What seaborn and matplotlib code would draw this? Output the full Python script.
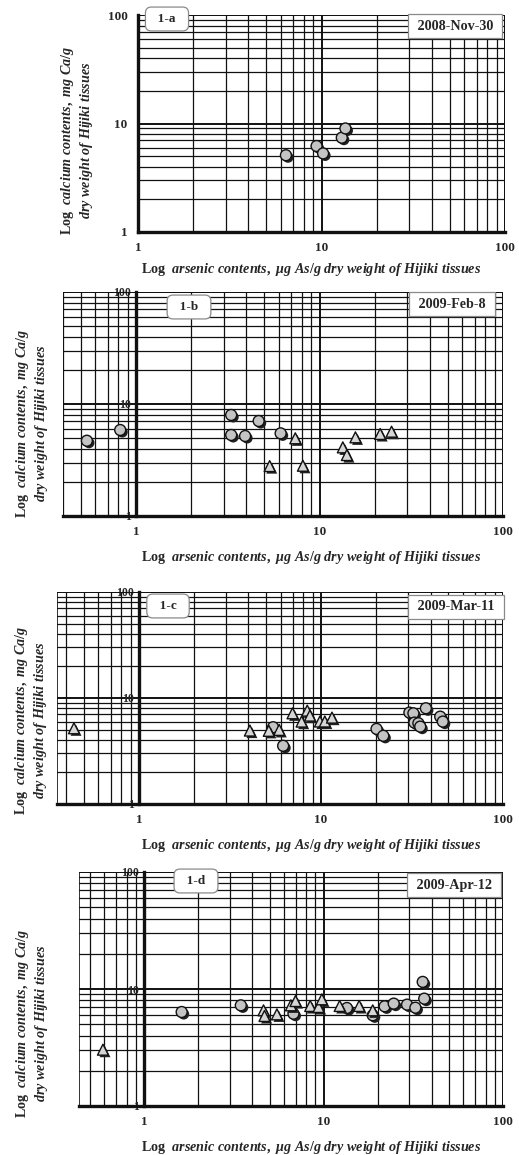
import pandas as pd
import matplotlib.pyplot as plt
import matplotlib.patheffects as pe
from matplotlib.patches import Rectangle
from matplotlib.ticker import FuncFormatter, NullFormatter, LogLocator
import seaborn as sns

# --- data (x: arsenic ug/g, y: calcium mg/g) ---
a_circle_x = [6.4, 9.4, 10.2, 12.9, 13.5]
a_circle_y = [5.1, 6.2, 5.3, 7.4, 9.0]

b_circle_x = [0.54, 0.82, 3.3, 3.3, 3.93, 4.66, 6.14]
b_circle_y = [4.7, 5.86, 7.98, 5.29, 5.18, 7.05, 5.47]
b_tri_x = [7.38, 5.35, 8.12, 13.4, 14.1, 15.7, 21.4, 24.7]
b_tri_y = [4.94, 2.79, 2.81, 4.10, 3.5, 5.04, 5.4, 5.66]

c_tri_x = [0.44, 4.07, 5.17, 5.9, 6.98, 7.83, 8.41, 8.7, 9.87, 10.5, 11.5]
c_tri_y = [5.18, 4.93, 4.9, 5.0, 7.17, 5.99, 7.6, 6.82, 6.0, 6.0, 6.53]
c_circle_x = [5.46, 6.2, 20.2, 22.0, 30.6, 32.2, 32.6, 34.3, 35.1, 37.7, 45.2, 46.7]
c_circle_y = [5.3, 3.54, 5.11, 4.4, 7.28, 7.17, 5.86, 5.78, 5.37, 8.0, 6.67, 5.99]

d_tri_x = [0.59, 4.63, 4.69, 5.5, 6.58, 6.98, 8.43, 9.38, 9.79, 12.3, 15.8, 18.8]
d_tri_y = [3.03, 6.57, 5.88, 6.07, 7.25, 7.89, 7.16, 7.02, 8.16, 7.16, 7.16, 6.57]
d_circle_x = [1.62, 3.46, 6.8, 13.5, 18.8, 21.9, 24.6, 29.2, 32.5, 35.7, 36.4]
d_circle_y = [6.36, 7.25, 6.15, 6.88, 5.96, 7.11, 7.5, 7.35, 6.92, 11.5, 8.27]

panel_tags = ['1-a', '1-b', '1-c', '1-d']
panel_dates = ['2008-Nov-30', '2009-Feb-8', '2009-Mar-11', '2009-Apr-12']


def frame(tag, cx, cy, tx, ty):
    parts = []
    if cx:
        parts.append(pd.DataFrame({'As': cx, 'Ca': cy, 'kind': 'circle'}))
    if tx:
        parts.append(pd.DataFrame({'As': tx, 'Ca': ty, 'kind': 'triangle'}))
    df = pd.concat(parts, ignore_index=True)
    df['panel'] = tag
    return df


panels = [
    frame('1-a', a_circle_x, a_circle_y, [], []),
    frame('1-b', b_circle_x, b_circle_y, b_tri_x, b_tri_y),
    frame('1-c', c_circle_x, c_circle_y, c_tri_x, c_tri_y),
    frame('1-d', d_circle_x, d_circle_y, d_tri_x, d_tri_y),
]

sns.set_theme(style='white')
plt.rcParams.update({
    'font.family': ['Liberation Serif', 'DejaVu Serif'],
    'font.weight': 'bold',
    'mathtext.fontset': 'custom',
    'mathtext.rm': 'Liberation Serif:bold',
    'mathtext.bf': 'Liberation Serif:bold',
    'mathtext.it': 'Liberation Serif:italic:bold',
})

W, H = 519, 1155
fig = plt.figure(figsize=(W / 100, H / 100), dpi=100)

# layout in pixels: left, right, top, bottom of plot area; xlim low
boxes = [
    (138, 505, 15, 232, 1.0),
    (63, 503, 292, 516, 0.4),
    (57, 503, 592, 804, 0.355),
    (79, 503, 872, 1106, 0.434),
]
ylab_pos = [(77, 140), (32, 423), (31, 720), (32, 1023)]
xlab_y = [270, 558, 845, 1147]
tag_pos = [(167, 19), (189, 307), (168, 606), (196, 881)]
date_pos = [(455, 26), (452, 304), (456, 607), (454, 885)]

xlabel = r"Log  $arsenic\ contents,\ μg\ As/g\ dry\ weight\ of\ Hijiki\ tissues$"
ylabel = "Log  $calcium\\ contents,\\ mg\\ Ca/g$\n$dry\\ weight\\ of\\ Hijiki\\ tissues$"

fmt = FuncFormatter(lambda v, p: f'{v:g}')
shadow = [pe.SimplePatchShadow(offset=(1.5, -1.5), shadow_rgbFace='#202020', alpha=1.0), pe.Normal()]

for i, df in enumerate(panels):
    l, r, t, b, xlo = boxes[i]
    ax = fig.add_axes([l / W, 1 - b / H, (r - l) / W, (b - t) / H])
    ax.set_xscale('log')
    ax.set_yscale('log')
    ax.set_xlim(xlo, 100)
    ax.set_ylim(1, 100)

    for kind, mk, fc, sz in [('circle', 'o', '#c4c4c4', 62), ('triangle', '^', '#d6d6d6', 62)]:
        sub = df[df['kind'] == kind]
        if sub.empty:
            continue
        sns.scatterplot(data=sub, x='As', y='Ca', marker=mk, s=sz, color=fc,
                        edgecolor='#111111', linewidth=1.0, ax=ax, zorder=5, legend=False)
        ax.collections[-1].set_path_effects(shadow)

    ax.xaxis.set_minor_locator(LogLocator(base=10, subs=range(2, 10)))
    ax.yaxis.set_minor_locator(LogLocator(base=10, subs=range(2, 10)))
    ax.xaxis.set_major_formatter(fmt)
    ax.yaxis.set_major_formatter(fmt)
    ax.xaxis.set_minor_formatter(NullFormatter())
    ax.yaxis.set_minor_formatter(NullFormatter())
    ax.grid(True, which='major', color='#111111', lw=1.4)
    ax.grid(True, which='minor', color='#111111', lw=0.9)
    ax.set_axisbelow(True)

    for s in ['top', 'right']:
        ax.spines[s].set_visible(False)
    ax.spines['left'].set_position(('data', 1))
    ax.spines['left'].set_linewidth(2.4)
    ax.spines['bottom'].set_linewidth(2.4)
    ax.spines['left'].set_color('#111111')
    ax.spines['bottom'].set_color('#111111')
    ax.add_patch(Rectangle((0, 0), 1, 1, transform=ax.transAxes, fill=False,
                           lw=1.2, ec='#111111', zorder=1))

    ax.tick_params(which='both', direction='inout', color='#111111', width=1)
    ax.tick_params(which='major', length=5, labelsize=9.5, pad=5)
    ax.tick_params(which='minor', length=3)
    if i > 0:
        ax.tick_params(axis='y', which='major', labelsize=8.5, pad=1)
    ax.set_xlabel('')
    ax.set_ylabel('')

    fig.text(311 / W, 1 - xlab_y[i] / H, xlabel, ha='center', va='center', fontsize=10.2)
    fig.text(ylab_pos[i][0] / W, 1 - ylab_pos[i][1] / H, ylabel, ha='center', va='center',
             rotation=90, fontsize=10.2, multialignment='center', linespacing=1.2)
    fig.text(tag_pos[i][0] / W, 1 - tag_pos[i][1] / H, '  ' + panel_tags[i] + '  ', ha='center',
             va='center', fontsize=9.5, zorder=10,
             bbox=dict(boxstyle='round,pad=0.45,rounding_size=0.45', fc='white', ec='#8a8a8a', lw=0.9))
    fig.text(date_pos[i][0] / W, 1 - date_pos[i][1] / H, ' ' + panel_dates[i] + ' ', ha='center',
             va='center', fontsize=10.2, zorder=10,
             bbox=dict(boxstyle='square,pad=0.4', fc='white', ec='#8a8a8a', lw=0.9))

fig.savefig('out.png', dpi=100)
